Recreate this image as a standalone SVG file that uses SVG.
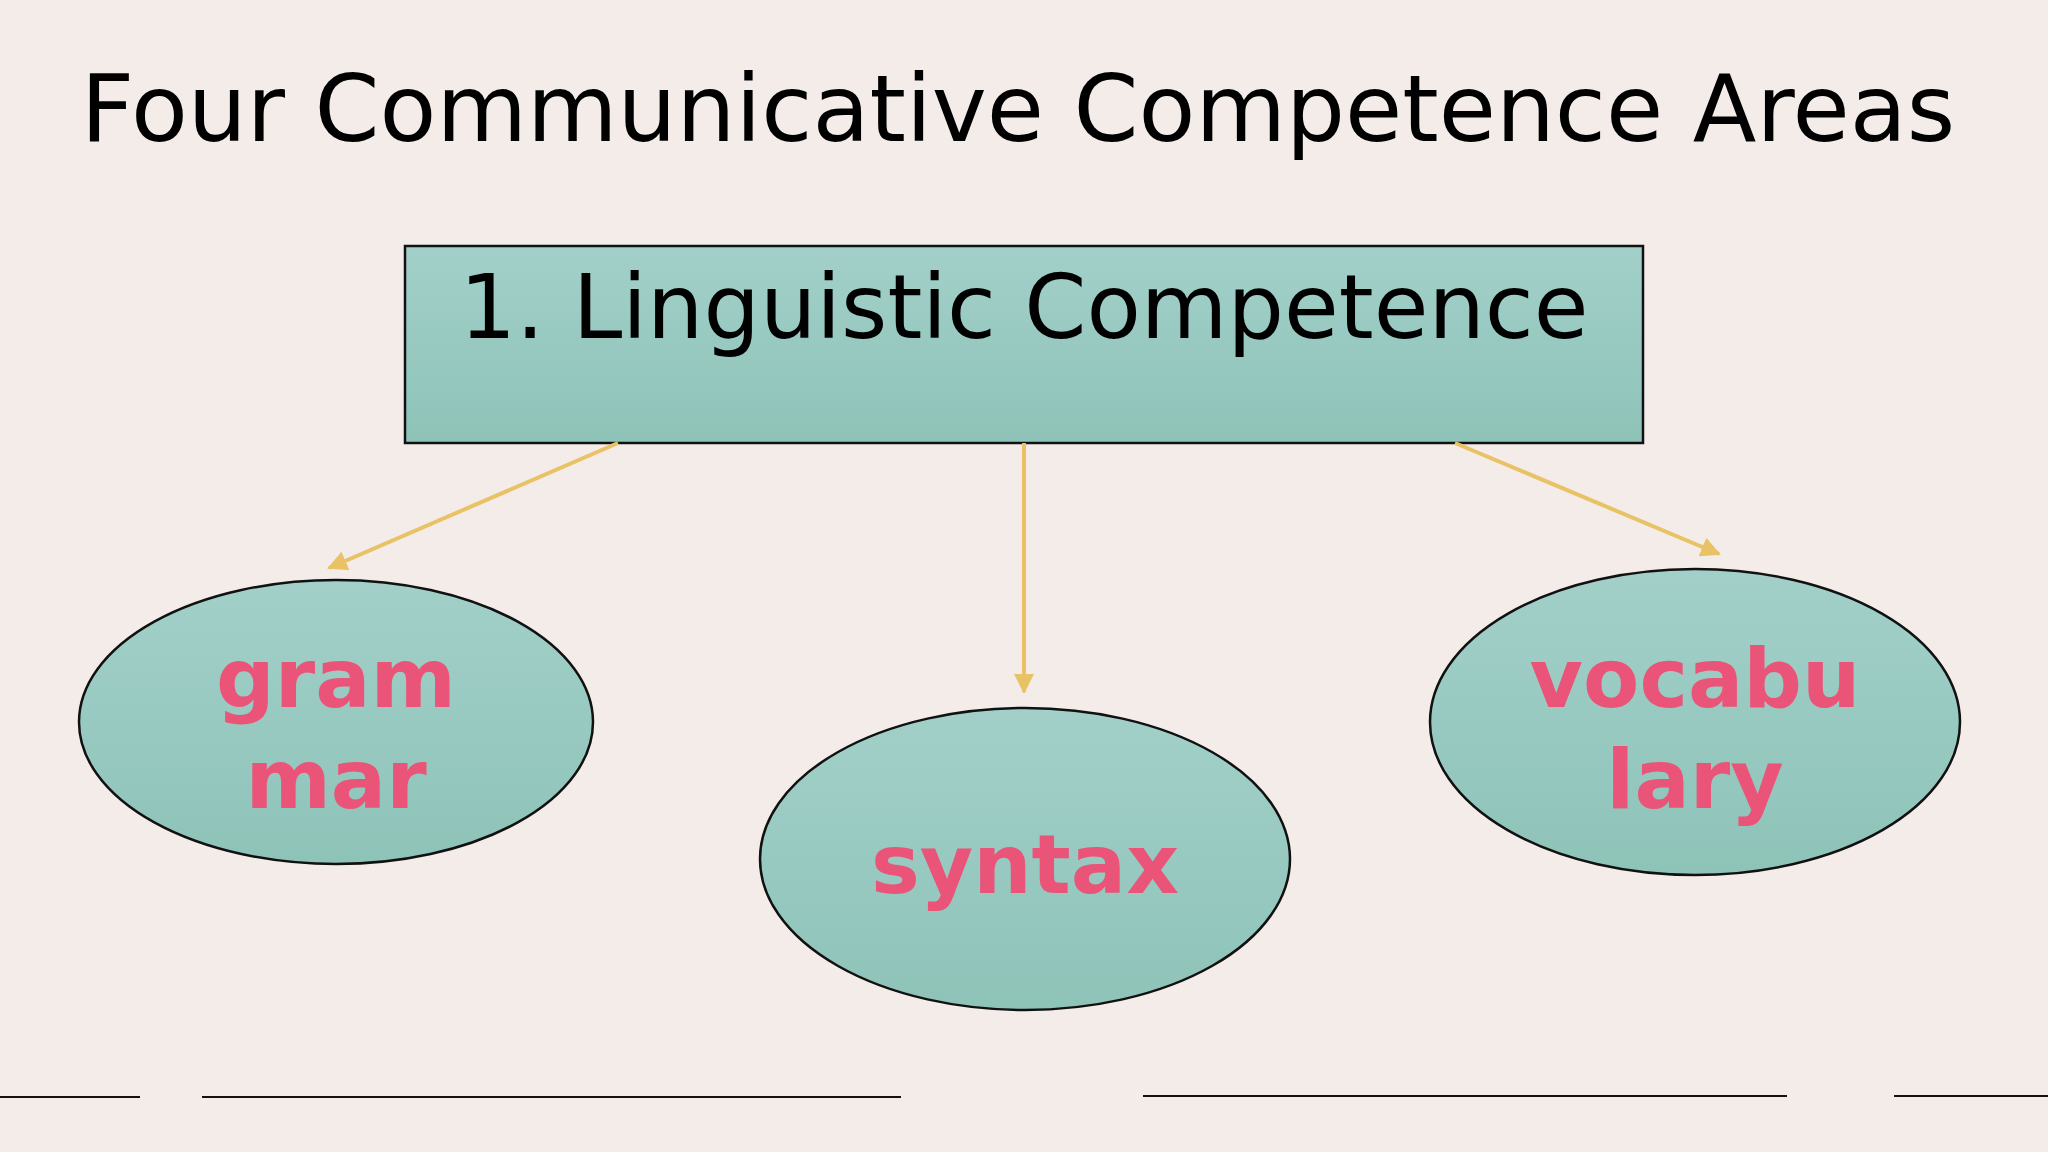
<svg xmlns="http://www.w3.org/2000/svg" width="2048" height="1152" viewBox="0 0 2048 1152">
<defs>
<linearGradient id="g" x1="0" y1="0" x2="0" y2="1"><stop offset="0" stop-color="#A2D0C9"/><stop offset="1" stop-color="#8EC3B8"/></linearGradient>
<marker id="a" viewBox="0 0 10 10" refX="9" refY="5" markerWidth="5" markerHeight="5" orient="auto"><path d="M0,0L10,5L0,10z" fill="#E8C264"/></marker>
<style>
.n{fill:url(#g);stroke:#111;stroke-width:2.5}
.t{font-family:"DejaVu Sans",sans-serif;font-weight:bold;font-size:82px;fill:#EA5478;text-anchor:middle}
.c{stroke:#E8C264;stroke-width:4;fill:none;marker-end:url(#a)}
.l{stroke:#111;stroke-width:2}
</style>
</defs>
<rect width="2048" height="1152" fill="#F4ECE9"/>
<text x="1018" y="141" font-family="DejaVu Sans,sans-serif" font-size="93" text-anchor="middle" fill="#000">Four Communicative Competence Areas</text>
<g id="root"><rect class="n" x="405" y="246" width="1238" height="197"/>
<text x="1024" y="338" font-family="DejaVu Sans,sans-serif" font-size="89" text-anchor="middle" fill="#000">1. Linguistic Competence</text></g>
<g id="grammar"><ellipse class="n" cx="336" cy="722" rx="257" ry="142"/><text class="t" x="336" y="707">gram</text><text class="t" x="336" y="808">mar</text></g>
<g id="syntax"><ellipse class="n" cx="1025" cy="859" rx="265" ry="151"/><text class="t" x="1025" y="893">syntax</text></g>
<g id="vocabulary"><ellipse class="n" cx="1695" cy="722" rx="265" ry="153"/><text class="t" x="1695" y="707">vocabu</text><text class="t" x="1695" y="808">lary</text></g>
<g id="connectors">
<line class="c" x1="618" y1="443" x2="329" y2="568"/>
<line class="c" x1="1024" y1="443" x2="1024" y2="692"/>
<line class="c" x1="1455" y1="443" x2="1719" y2="554"/>
</g>
<g id="lines">
<line class="l" x1="0" y1="1097" x2="140" y2="1097"/>
<line class="l" x1="202" y1="1097" x2="901" y2="1097"/>
<line class="l" x1="1143" y1="1096" x2="1787" y2="1096"/>
<line class="l" x1="1894" y1="1096" x2="2048" y2="1096"/>
</g>
</svg>
